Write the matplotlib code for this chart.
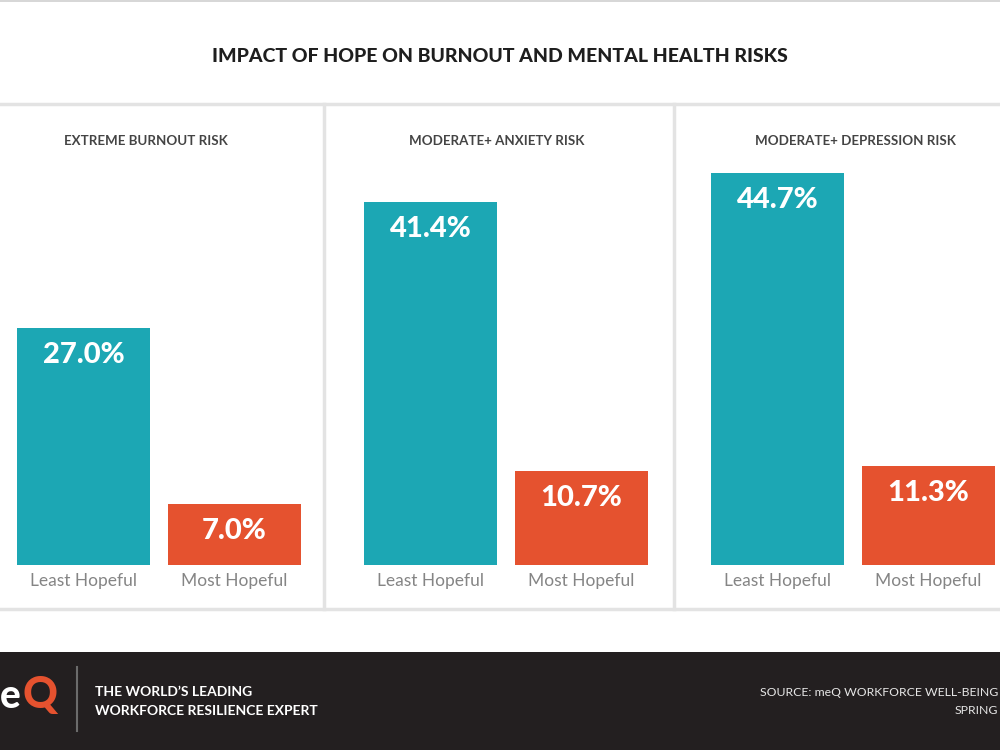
import matplotlib.pyplot as plt
from matplotlib.patches import Rectangle
from matplotlib.lines import Line2D

# Data
panels = ['EXTREME BURNOUT RISK', 'MODERATE+ ANXIETY RISK', 'MODERATE+ DEPRESSION RISK']
groups = ['Least Hopeful', 'Most Hopeful']
least_hopeful = [27.0, 41.4, 44.7]
most_hopeful = [7.0, 10.7, 11.3]

teal = '#1ca7b4'
orange = '#e5522f'
line_gray = '#e3e3e3'

plt.rcParams['font.family'] = ['Lato', 'DejaVu Sans']

W, H = 1000, 750
fig = plt.figure(figsize=(10, 7.5), dpi=100)
fig.patch.set_facecolor('white')

def fx(px):
    return px / W

def fy(py):
    return 1 - py / H

# Frame lines
fig.add_artist(Line2D([0, 1], [fy(1), fy(1)], color='#cfcfcf', lw=1.2))
fig.add_artist(Line2D([0, 1], [fy(104), fy(104)], color=line_gray, lw=2.5))
fig.add_artist(Line2D([0, 1], [fy(609), fy(609)], color=line_gray, lw=2.5))
for sx in [324, 674]:
    fig.add_artist(Line2D([fx(sx), fx(sx)], [fy(104), fy(609)], color=line_gray, lw=2.5))

fig.text(0.5, fy(57), 'IMPACT OF HOPE ON BURNOUT AND MENTAL HEALTH RISKS',
         ha='center', va='center', fontsize=14, fontweight='black', color='#1e1e1e')

# Panels
bar_left = [17, 364, 711]
bar_right = [301, 648, 995]
bottom_px, top_px = 565, 150
px_per_pct = 8.775
ymax = (bottom_px - top_px) / px_per_pct
title_x = [146, 497, 855]

for i, name in enumerate(panels):
    ax = fig.add_axes([fx(bar_left[i]), fy(bottom_px), fx(bar_right[i] - bar_left[i]),
                       (bottom_px - top_px) / H])
    vals = [least_hopeful[i], most_hopeful[i]]
    ax.bar([0, 1], vals, width=0.88, color=[teal, orange])
    ax.set_xlim(-0.44, 1.44)
    ax.set_ylim(0, ymax)
    for x, v in zip([0, 1], vals):
        ax.text(x, v - 3.1, f'{v:.1f}%', ha='center', va='center',
                fontsize=21, fontweight='black', color='white')
    ax.set_xticks([0, 1])
    ax.set_xticklabels(groups, fontsize=12.5, color='#858585')
    ax.tick_params(axis='x', length=0, pad=6)
    ax.set_yticks([])
    for s in ax.spines.values():
        s.set_visible(False)
    ax.patch.set_alpha(0)
    fig.text(fx(title_x[i]), fy(141), name, ha='center', va='center',
             fontsize=9.6, fontweight='bold', color='#444444')

# Footer
fig.add_artist(Rectangle((0, 0), 1, fy(652), transform=fig.transFigure,
                         facecolor='#231f20', edgecolor='none'))
fig.add_artist(Line2D([fx(77), fx(77)], [fy(667), fy(731)], color='#6b6b6b', lw=1.5))
fig.text(fx(0), fy(697), 'e', ha='left', va='center', fontsize=28,
         fontweight='black', color='white')
fig.text(fx(22), fy(695), 'Q', ha='left', va='center', fontsize=31,
         fontweight='black', color=orange)
fig.text(fx(95), fy(692), 'THE WORLD\u2019S LEADING', ha='left', va='center',
         fontsize=10, fontweight='bold', color='white')
fig.text(fx(95), fy(711), 'WORKFORCE RESILIENCE EXPERT', ha='left', va='center',
         fontsize=10, fontweight='bold', color='white')
fig.text(fx(998), fy(692), 'SOURCE: meQ WORKFORCE WELL-BEING', ha='right', va='center',
         fontsize=8.8, color='#e6e6e6')
fig.text(fx(998), fy(710), 'SPRING', ha='right', va='center',
         fontsize=8.8, color='#e6e6e6')

fig.savefig('out.png', dpi=100)
